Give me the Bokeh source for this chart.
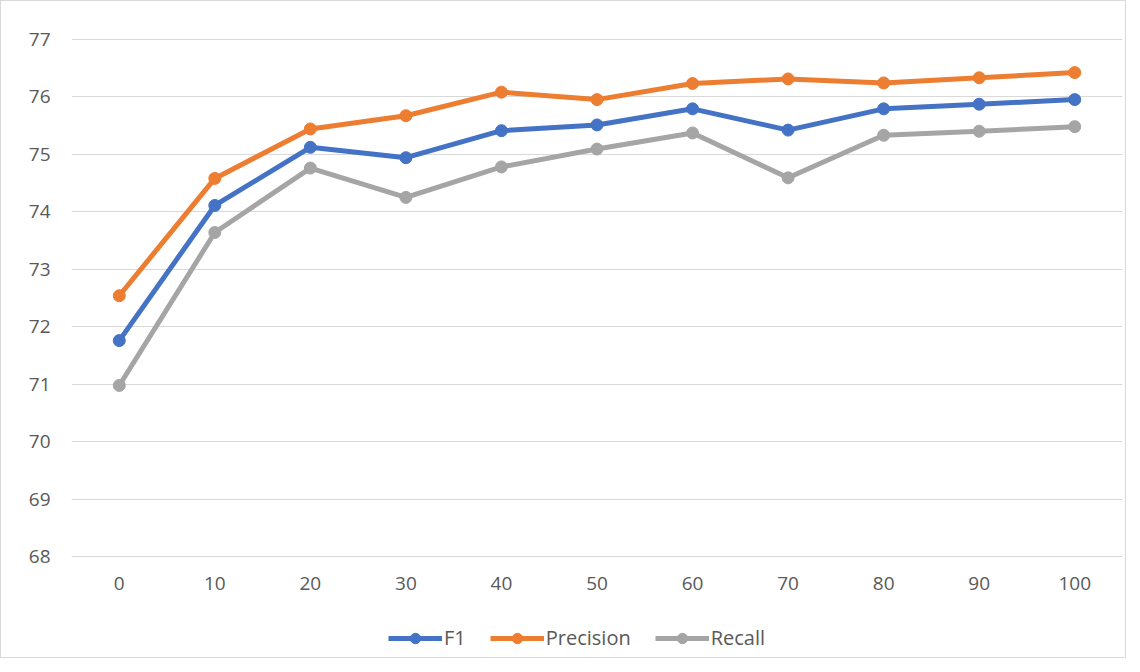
from bokeh.plotting import figure
from bokeh.models import FixedTicker, Legend, LegendItem, Range1d
from bokeh.embed import file_html
from bokeh.resources import INLINE

categories = ["0", "10", "20", "30", "40", "50", "60", "70", "80", "90", "100"]
f1 = [71.76, 74.11, 75.12, 74.94, 75.41, 75.51, 75.79, 75.42, 75.79, 75.87, 75.95]
precision = [72.54, 74.58, 75.44, 75.67, 76.08, 75.95, 76.23, 76.31, 76.24, 76.33, 76.42]
recall = [70.98, 73.64, 74.76, 74.25, 74.78, 75.09, 75.37, 74.59, 75.33, 75.40, 75.48]
y_ticks = [68, 69, 70, 71, 72, 73, 74, 75, 76, 77]

series = [("F1", f1, "#4472C4"), ("Precision", precision, "#ED7D31"), ("Recall", recall, "#A5A5A5")]

FONT = "Open Sans"
TXT = "#595959"
FS = "19px"

p = figure(frame_width=1051, frame_height=620, x_range=categories, y_range=Range1d(66.25, 77.03),
           output_backend="svg", toolbar_location=None,
           min_border_left=70, min_border_right=3, min_border_top=36, min_border_bottom=0)
p.styles = {"border": "1px solid #d9d9d9"}
p.outline_line_color = None
p.background_fill_color = "white"
p.border_fill_color = "white"

p.xgrid.grid_line_color = None
p.ygrid.grid_line_color = "#d9d9d9"
p.ygrid.grid_line_width = 1.2
p.yaxis.ticker = FixedTicker(ticks=y_ticks)
p.xaxis.fixed_location = 68

for ax in (p.xaxis, p.yaxis):
    ax.axis_line_color = None
    ax.major_tick_line_color = None
    ax.minor_tick_line_color = None
    ax.major_label_text_color = TXT
    ax.major_label_text_font = FONT
    ax.major_label_text_font_size = FS
p.xaxis.major_label_standoff = 14
p.yaxis.major_label_standoff = 15

items = []
for name, vals, col in series:
    l = p.line(categories, vals, line_color=col, line_width=5, line_join="round")
    s = p.scatter(categories, vals, size=12, fill_color=col, line_color=col)
    items.append(LegendItem(label=name, renderers=[l, s]))

legend = Legend(items=items, orientation="horizontal", location=(317, 6),
                label_text_font=FONT, label_text_font_size="20px", label_text_color=TXT,
                glyph_width=54, glyph_height=26, spacing=24, label_standoff=2,
                border_line_color=None, background_fill_alpha=0, margin=0, padding=0)
p.add_layout(legend, "center")

open("out.html", "w").write(file_html(p, INLINE))
